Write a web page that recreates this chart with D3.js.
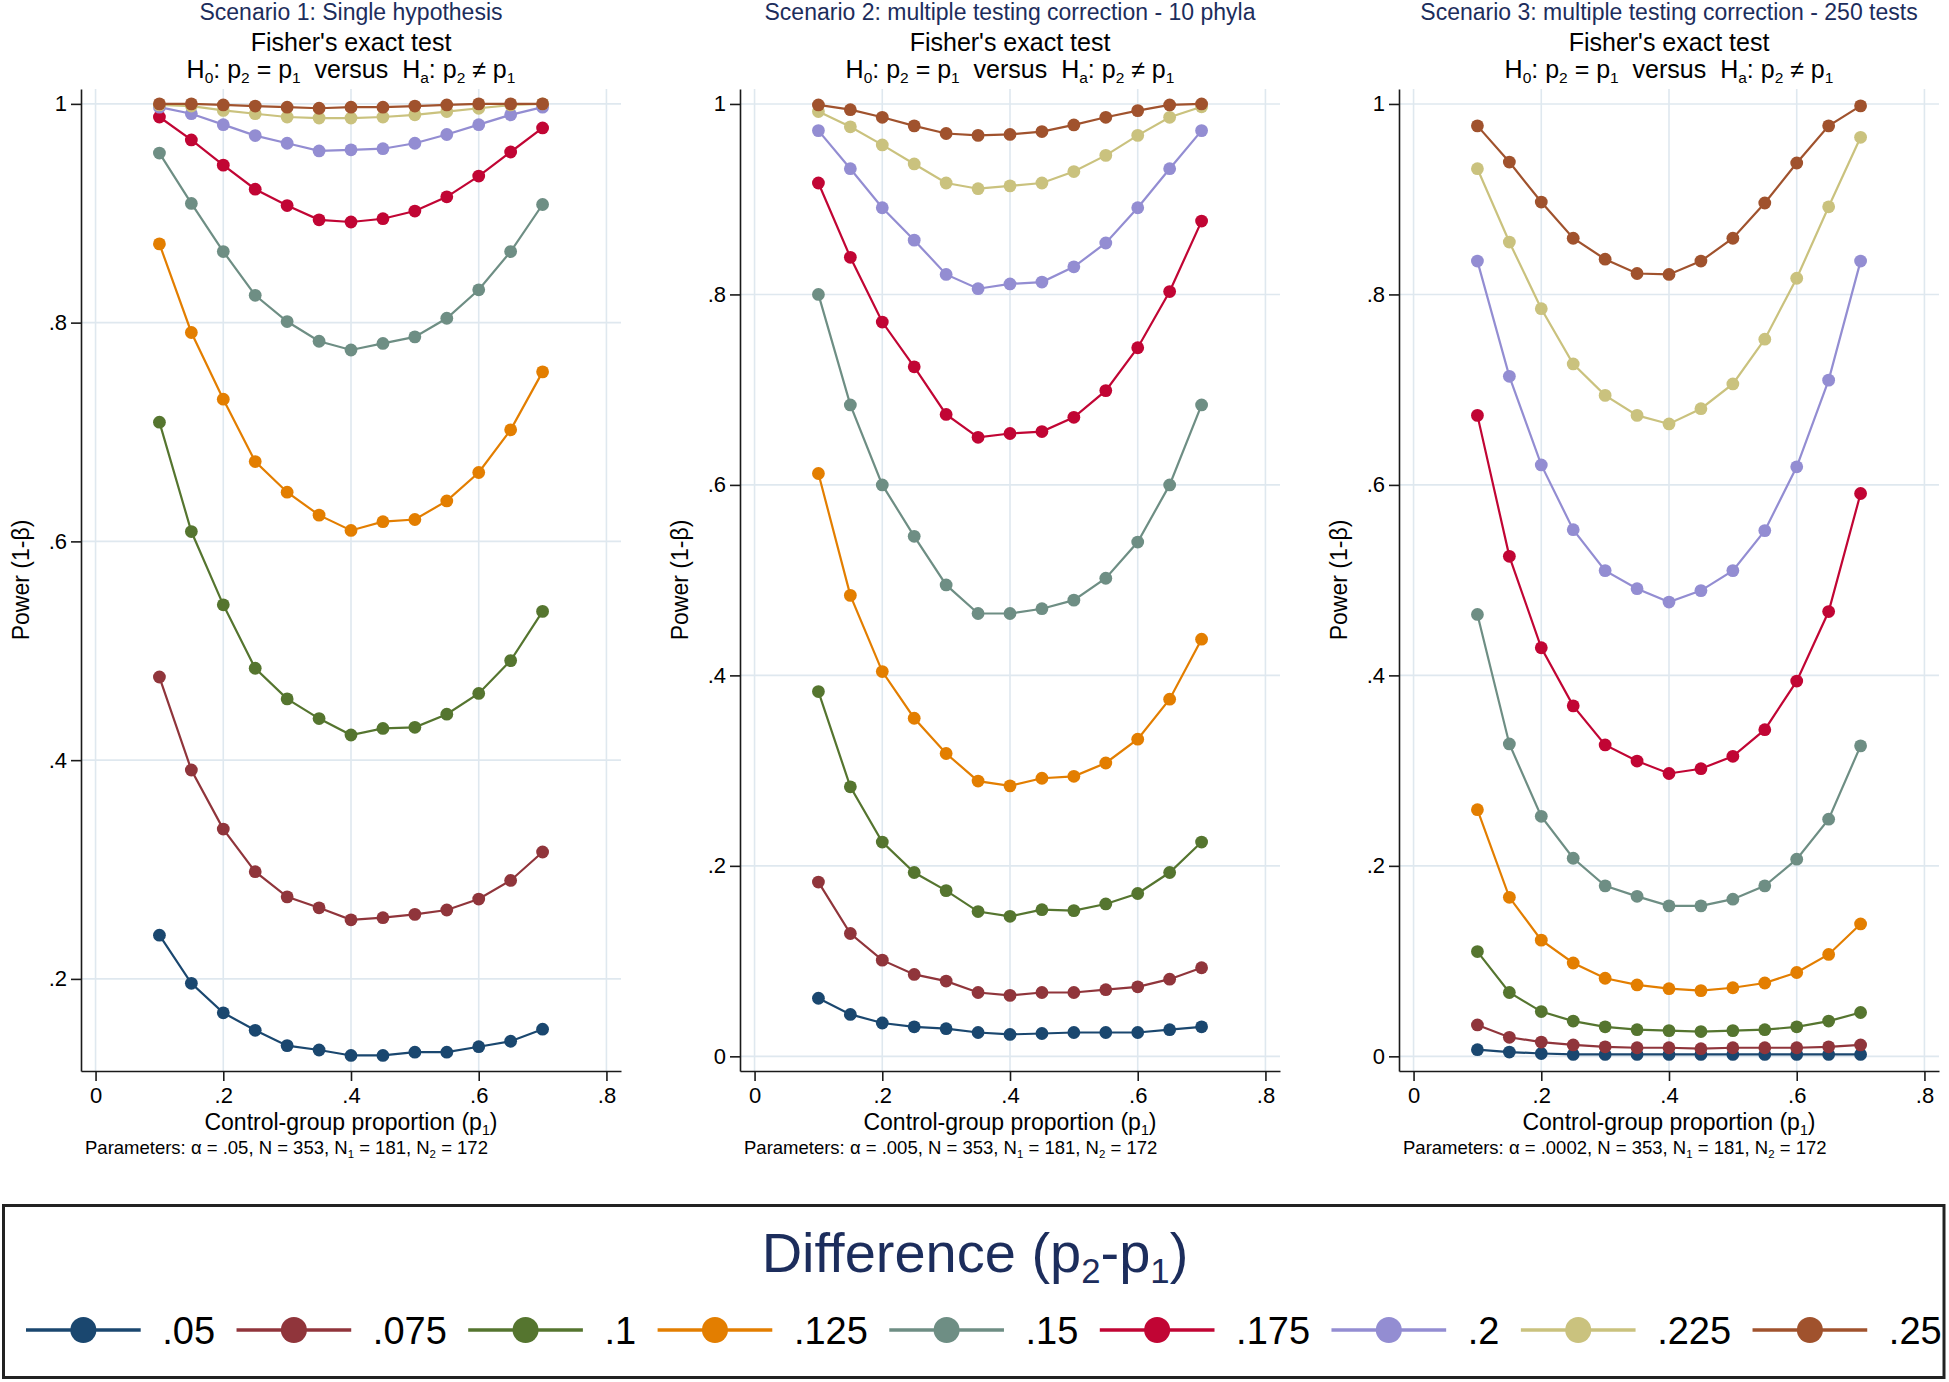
<!DOCTYPE html>
<html lang="en">
<head>
<meta charset="UTF-8">
<style>
  body { margin: 0; background: #fff; }
  svg { display: block; font-family: "Liberation Sans", Arial, Helvetica, sans-serif; }
  .axis path, .axis line { stroke: #1a1a1a; stroke-width: 1.6px; }
  .axis text { font-size: 22px; fill: #000; }
  .grid line { stroke: #dfe8ef; stroke-width: 1.6px; }
  .pre { white-space: pre; }
</style>
</head>
<body>
<div id="chart"></div>
<script src="https://cdn.jsdelivr.net/npm/d3@7"></script>
<script>

// control-group proportion p1
var p1 = [0.1, 0.15, 0.2, 0.25, 0.3, 0.35, 0.4, 0.45, 0.5, 0.55, 0.6, 0.65, 0.7];

var diffLabels = [".05", ".075", ".1", ".125", ".15", ".175", ".2", ".225", ".25"];
var diffColors = ["#1a476f", "#90353b", "#55752f", "#e37e00", "#6e8e84", "#c10534", "#938dd2", "#cac27e", "#a0522d"];

// power per difference, one row per entry of diffLabels
var scenario1 = [
  [.240, .196, .169, .153, .139, .135, .130, .130, .133, .133, .138, .143, .154],
  [.476, .391, .337, .298, .275, .265, .254, .256, .259, .263, .273, .290, .316],
  [.709, .609, .542, .484, .456, .438, .423, .429, .430, .442, .461, .491, .536],
  [.872, .791, .730, .673, .645, .624, .610, .618, .620, .637, .663, .702, .755],
  [.955, .909, .865, .825, .801, .783, .775, .781, .787, .804, .830, .865, .908],
  [.988, .967, .944, .922, .907, .894, .892, .895, .902, .915, .934, .956, .978],
  [.997, .991, .981, .971, .964, .957, .958, .959, .964, .972, .981, .990, .997],
  [.999, .998, .994, .991, .988, .987, .987, .988, .990, .993, .996, .999, 1.0],
  [1.0, 1.0, .999, .998, .997, .996, .997, .997, .998, .999, 1.0, 1.0, 1.0]
];

var scenario2 = [
  [.061, .044, .035, .031, .029, .025, .023, .024, .025, .025, .025, .028, .031],
  [.183, .129, .101, .086, .079, .067, .064, .067, .067, .070, .073, .081, .093],
  [.383, .283, .225, .193, .174, .152, .147, .154, .153, .160, .171, .193, .225],
  [.612, .484, .404, .355, .318, .289, .284, .292, .294, .308, .333, .375, .438],
  [.800, .684, .600, .546, .495, .465, .465, .470, .479, .502, .540, .600, .684],
  [.917, .839, .771, .724, .674, .650, .654, .656, .671, .699, .744, .803, .877],
  [.972, .932, .891, .857, .821, .806, .811, .813, .829, .854, .891, .932, .972],
  [.992, .976, .957, .937, .917, .911, .914, .917, .929, .946, .967, .986, .997],
  [.999, .994, .986, .977, .969, .967, .968, .971, .978, .986, .993, .999, 1.0]
];

var scenario3 = [
  [.007, .0045, .003, .002, .002, .002, .002, .002, .002, .002, .002, .002, .002],
  [.033, .020, .015, .012, .010, .009, .009, .008, .009, .009, .009, .010, .012],
  [.110, .067, .047, .037, .031, .028, .027, .026, .027, .028, .031, .037, .046],
  [.259, .167, .122, .098, .082, .075, .071, .069, .072, .077, .088, .107, .139],
  [.464, .328, .252, .208, .179, .168, .158, .158, .165, .179, .207, .249, .326],
  [.673, .525, .429, .368, .327, .310, .297, .302, .315, .343, .394, .467, .591],
  [.835, .714, .621, .553, .510, .491, .477, .489, .510, .552, .619, .710, .835],
  [.932, .855, .785, .727, .694, .673, .664, .680, .706, .753, .817, .892, .965],
  [.977, .939, .897, .859, .837, .822, .821, .835, .859, .896, .938, .977, .998]
];

var scenarioTitles = ["Scenario 1: Single hypothesis",
                      "Scenario 2: multiple testing correction - 10 phyla",
                      "Scenario 3: multiple testing correction - 250 tests"];
var alphas = [".05", ".005", ".0002"];
var yTicks1 = [.2, .4, .6, .8, 1];
var yTicks23 = [0, .2, .4, .6, .8, 1];
var xTicks = [0, .2, .4, .6, .8];

var W = 1949, H = 1382;
var navy = "#1c2d5c";

var svg = d3.select("#chart").append("svg")
    .attr("width", W).attr("height", H);
svg.append("rect").attr("width", W).attr("height", H).attr("fill", "#fff");

var panels = [
  { data: scenario1, yDomain: [0.1158, 1.0136], yTicks: yTicks1 },
  { data: scenario2, yDomain: [-0.0154, 1.0157], yTicks: yTicks23 },
  { data: scenario3, yDomain: [-0.0154, 1.0157], yTicks: yTicks23 }
];

var plotTop = 89, plotBottom = 1071, plotW = 540;
var fmt = function (d) { return d === 0 ? "0" : d === 1 ? "1" : d3.format(".1f")(d).replace(/^0\./, "."); };

// text with subscripts: parts = [[text, isSub], ...]
function richText(sel, parts, size) {
  parts.forEach(function (p) {
    var t = sel.append("tspan").text(p[0]);
    if (p[1]) {
      t.attr("font-size", size * 0.62).attr("dy", size * 0.2);
    } else if (t.node().previousSibling && t.node().previousSibling.getAttribute("dy")) {
      t.attr("dy", -size * 0.2);
    }
  });
}

panels.forEach(function (pn, k) {
  var left = 81 + k * 659;
  var x = d3.scaleLinear().domain([-0.0228, 0.8228]).range([left, left + plotW]);
  var y = d3.scaleLinear().domain(pn.yDomain).range([plotBottom, plotTop]);
  var cx = left + plotW / 2;
  var g = svg.append("g");

  // grid
  var grid = g.append("g").attr("class", "grid");
  grid.selectAll(".gy").data(pn.yTicks).enter().append("line")
      .attr("x1", left).attr("x2", left + plotW)
      .attr("y1", function (d) { return y(d); }).attr("y2", function (d) { return y(d); });
  grid.selectAll(".gx").data(xTicks).enter().append("line")
      .attr("y1", plotTop).attr("y2", plotBottom)
      .attr("x1", function (d) { return x(d); }).attr("x2", function (d) { return x(d); });

  // axes
  g.append("g").attr("class", "axis")
      .attr("transform", "translate(" + left + ",0)")
      .call(d3.axisLeft(y).tickValues(pn.yTicks).tickFormat(fmt).tickSize(10).tickSizeOuter(0).tickPadding(4));
  g.append("g").attr("class", "axis")
      .attr("transform", "translate(0," + plotBottom + ")")
      .call(d3.axisBottom(x).tickValues(xTicks).tickFormat(fmt).tickSize(10).tickSizeOuter(0).tickPadding(6));

  // series
  var line = d3.line().x(function (d, i) { return x(p1[i]); }).y(function (d) { return y(d); });
  pn.data.forEach(function (row, s) {
    g.append("path").datum(row)
        .attr("d", line).attr("fill", "none")
        .attr("stroke", diffColors[s]).attr("stroke-width", 2.2);
    g.selectAll(".pt" + s).data(row).enter().append("circle")
        .attr("cx", function (d, i) { return x(p1[i]); })
        .attr("cy", function (d) { return y(d); })
        .attr("r", 6.4).attr("fill", diffColors[s]);
  });

  // titles
  g.append("text").attr("x", cx).attr("y", 20).attr("text-anchor", "middle")
      .attr("font-size", 23).attr("fill", navy).text(scenarioTitles[k]);
  g.append("text").attr("x", cx).attr("y", 51).attr("text-anchor", "middle")
      .attr("font-size", 25).text("Fisher's exact test");
  var h = g.append("text").attr("class", "pre").attr("x", cx).attr("y", 78).attr("text-anchor", "middle")
      .attr("font-size", 25);
  richText(h, [["H"], ["0", 1], [": p"], ["2", 1], [" = p"], ["1", 1], ["  versus  H"], ["a", 1], [": p"], ["2", 1], [" \u2260 p"], ["1", 1]], 25);

  // axis titles
  g.append("text").attr("transform", "translate(" + (left - 52) + "," + ((plotTop + plotBottom) / 2) + ") rotate(-90)")
      .attr("text-anchor", "middle").attr("font-size", 23).text("Power (1-\u03b2)");
  var xt = g.append("text").attr("x", cx).attr("y", 1130).attr("text-anchor", "middle").attr("font-size", 23);
  richText(xt, [["Control-group proportion (p"], ["1", 1], [")"]], 23);

  var pt = g.append("text").attr("x", left + 4).attr("y", 1154).attr("font-size", 18.5);
  richText(pt, [["Parameters: \u03b1 = " + alphas[k] + ", N = 353, N"], ["1", 1], [" = 181, N"], ["2", 1], [" = 172"]], 18.5);
});

// legend
var lg = svg.append("g");
lg.append("rect").attr("x", 3.5).attr("y", 1205.5).attr("width", 1940.5).attr("height", 172)
    .attr("fill", "#fff").attr("stroke", "#222").attr("stroke-width", 3);
var lt = lg.append("text").attr("x", 975).attr("y", 1272).attr("text-anchor", "middle")
    .attr("font-size", 56).attr("fill", navy);
richText(lt, [["Difference (p"], ["2", 1], ["-p"], ["1", 1], [")"]], 56);

var rowY = 1330, lineLen = 114.7, gap1 = 21.6, gap2 = 21.4;
var cur = 26;
diffLabels.forEach(function (lab, i) {
  lg.append("line").attr("x1", cur).attr("x2", cur + lineLen)
      .attr("y1", rowY).attr("y2", rowY)
      .attr("stroke", diffColors[i]).attr("stroke-width", 3.6);
  lg.append("circle").attr("cx", cur + lineLen / 2).attr("cy", rowY).attr("r", 13)
      .attr("fill", diffColors[i]);
  var t = lg.append("text").attr("x", cur + lineLen + gap1).attr("y", rowY + 13.5)
      .attr("font-size", 38).text(lab);
  cur = cur + lineLen + gap1 + t.node().getComputedTextLength() + gap2;
});

</script>
</body>
</html>
